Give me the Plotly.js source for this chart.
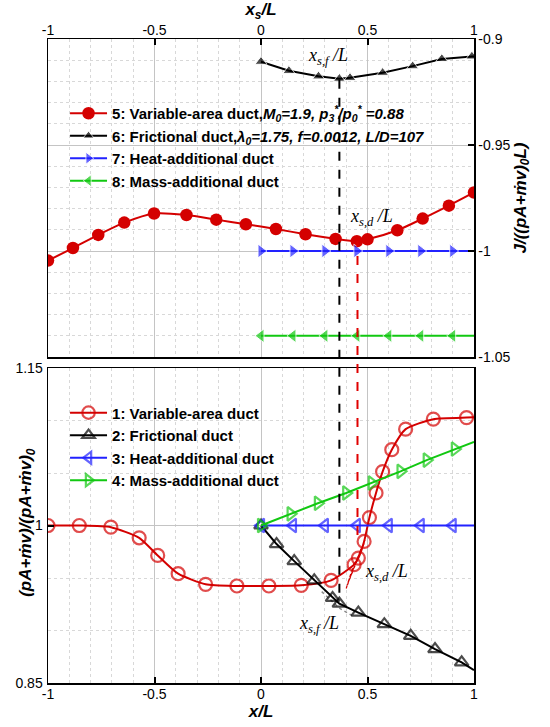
<!DOCTYPE html>
<html>
<head>
<meta charset="utf-8">
<script src="https://cdn.plot.ly/plotly-3.0.1.min.js"></script>
<style>html,body{margin:0;padding:0;background:#fff;}#chart{width:550px;height:727px;}</style>
</head>
<body>
<div id="chart"></div>
<script>
// ---------- data ----------
// Top panel: J/((pA+mv)0 L) vs xs/L
const x5 = [-1, -0.883, -0.764, -0.642, -0.502, -0.350, -0.210, -0.071, 0.070, 0.209, 0.350, 0.450, 0.500, 0.640, 0.759, 0.882, 1.0];
const y5 = [-1.0045, -0.9986, -0.9924, -0.9866, -0.9823, -0.9830, -0.9852, -0.9874, -0.9896, -0.9921, -0.9943, -0.9954, -0.9945, -0.9902, -0.9847, -0.9786, -0.9724];
const x6 = [0, 0.131, 0.270, 0.368, 0.418, 0.571, 0.712, 0.849, 0.99, 1.0];
const y6 = [-0.9107, -0.9150, -0.9176, -0.9187, -0.9183, -0.9159, -0.9128, -0.9094, -0.9082, -0.9082];
const x7 = [0, 0.15, 0.30, 0.45, 0.60, 0.75, 0.90, 1.0];
const y7 = [-1, -1, -1, -1, -1, -1, -1, -1];
const x8 = [0, 0.15, 0.30, 0.45, 0.60, 0.75, 0.90, 1.0];
const y8 = [-1.04, -1.04, -1.04, -1.04, -1.04, -1.04, -1.04, -1.04];

// Bottom panel: (pA+mv)/(pA+mv)0 vs x/L
const x1 = [-1, -0.853, -0.705, -0.572, -0.485, -0.389, -0.260, -0.113, 0.037, 0.189, 0.329, 0.437, 0.457, 0.484, 0.509, 0.540, 0.571, 0.614, 0.679, 0.809, 0.965, 1.0];
const y1 = [1.0, 1.0, 0.9984, 0.9883, 0.9715, 0.9541, 0.9440, 0.9424, 0.9424, 0.9430, 0.9478, 0.9627, 0.9690, 0.9848, 1.0076, 1.0310, 1.0513, 1.0722, 1.0918, 1.1013, 1.1028, 1.1030];
const x2 = [0, 0.073, 0.156, 0.250, 0.336, 0.368, 0.457, 0.579, 0.703, 0.817, 0.942, 1.0];
const y2 = [1.0, 0.9823, 0.9661, 0.9478, 0.9310, 0.9256, 0.9171, 0.9060, 0.8949, 0.8823, 0.8696, 0.8623];
const x3 = [0, 0.15, 0.30, 0.45, 0.60, 0.75, 0.90, 1.0];
const y3 = [1, 1, 1, 1, 1, 1, 1, 1];
const x4 = [0, 0.139, 0.267, 0.400, 0.520, 0.655, 0.778, 0.910, 1.0];
const y4 = [1.0, 1.0111, 1.0212, 1.0310, 1.0405, 1.0516, 1.0623, 1.0728, 1.0797];
// thin dotted side curves near the shock points
const xRedDot = [0.400, 0.440, 0.405, 0.470, 0.410, 0.490];
const yRedDot = [0.940, 0.966, 0.943, 0.978, 0.946, 0.986];
const xGreyDot = [0.285, 0.330, 0.370, 0.430];
const yGreyDot = [0.937, 0.929, 0.921, 0.914];

// shock locations
const xsf = 0.368, xsfTop = -0.9187, xsfBot = 0.936;
const xsd = 0.453, xsdTop = -0.9954, xsdBot = 0.991;

// axis ticks
const xTickVals = [-1, -0.5, 0, 0.5, 1];
const xTickText = ['-1', '-0.5', '0', '0.5', '1'];
const yTopTickVals = [-1.05, -1, -0.95, -0.9];
const yTopTickText = ['-1.05', '-1', '-0.95', '-0.9'];
const yBotTickVals = [0.85, 1, 1.15];
const yBotTickText = ['0.85', '1', '1.15'];

// ---------- styling ----------
const RED = '#d40000', BLUE = '#2222ff', GREEN = '#11c811', BLACK = '#000000';
const FONT = 'Liberation Sans, Arial, sans-serif';
const SERIF = 'Liberation Serif, Times New Roman, serif';

function sizes(n, s, hideLast) {
  const a = new Array(n).fill(s);
  if (hideLast) a[n - 1] = 0;
  return a;
}

const traces = [
  // top panel (x2, y2)
  {x: x5, y: y5, xaxis: 'x2', yaxis: 'y2', mode: 'lines+markers', legend: 'legend',
   name: '5: Variable-area duct,<i>M<sub>0</sub>=1.9, p<sub>3</sub><sup>*</sup>/p<sub>0</sub><sup>*</sup> =0.88</i>',
   line: {color: RED, width: 2, shape: 'spline', smoothing: 0.8},
   marker: {symbol: 'circle', size: 12.5, color: RED}},
  {x: x6, y: y6, xaxis: 'x2', yaxis: 'y2', mode: 'lines+markers', legend: 'legend',
   name: '6: Frictional duct,<i>λ<sub>0</sub>=1.75, f=0.0012, L/D=107</i>',
   line: {color: BLACK, width: 2},
   marker: {symbol: 'triangle-up', size: sizes(x6.length, 10.5, true), color: BLACK}},
  {x: x7, y: y7, xaxis: 'x2', yaxis: 'y2', mode: 'lines+markers', legend: 'legend',
   name: '7: Heat-additional duct',
   line: {color: BLUE, width: 2},
   marker: {symbol: 'triangle-right', size: sizes(x7.length, 12, true), color: BLUE}},
  {x: x8, y: y8, xaxis: 'x2', yaxis: 'y2', mode: 'lines+markers', legend: 'legend',
   name: '8: Mass-additional duct',
   line: {color: GREEN, width: 2},
   marker: {symbol: 'triangle-left', size: sizes(x8.length, 12, true), color: GREEN}},

  // bottom panel (x, y)
  {x: xRedDot, y: yRedDot, xaxis: 'x', yaxis: 'y', mode: 'lines', showlegend: false,
   line: {color: RED, width: 1.2, dash: 'dot'}, hoverinfo: 'skip'},
  {x: xGreyDot, y: yGreyDot, xaxis: 'x', yaxis: 'y', mode: 'lines', showlegend: false,
   line: {color: '#888888', width: 1.5, dash: 'dot'}, hoverinfo: 'skip'},
  {x: x1, y: y1, xaxis: 'x', yaxis: 'y', mode: 'lines+markers', legend: 'legend2',
   name: '1: Variable-area duct',
   line: {color: RED, width: 2, shape: 'spline', smoothing: 0.6},
   marker: {symbol: 'circle-open', size: sizes(x1.length, 13, true), color: RED, line: {width: 2.2, color: RED}}},
  {x: x2, y: y2, xaxis: 'x', yaxis: 'y', mode: 'lines+markers', legend: 'legend2',
   name: '2: Frictional duct',
   line: {color: BLACK, width: 2},
   marker: {symbol: 'triangle-up-open', size: sizes(x2.length, 12, true), color: BLACK, line: {width: 2.2, color: BLACK}}},
  {x: x3, y: y3, xaxis: 'x', yaxis: 'y', mode: 'lines+markers', legend: 'legend2',
   name: '3: Heat-additional duct',
   line: {color: BLUE, width: 2},
   marker: {symbol: 'triangle-left-open', size: sizes(x3.length, 12, true), color: BLUE, line: {width: 2.2, color: BLUE}}},
  {x: x4, y: y4, xaxis: 'x', yaxis: 'y', mode: 'lines+markers', legend: 'legend2',
   name: '4: Mass-additional duct',
   line: {color: GREEN, width: 2},
   marker: {symbol: 'triangle-right-open', size: sizes(x4.length, 12, true), color: GREEN, line: {width: 2.2, color: GREEN}}}
];

const topDomain = [0.5062, 1];
const botDomain = [0, 0.4891];
const topRange = [-1.05, -0.9];
const botRange = [0.85, 1.15];
function toPaper(v, range, dom) {
  return dom[0] + (v - range[0]) / (range[1] - range[0]) * (dom[1] - dom[0]);
}

const tickFont = {family: FONT, size: 14, color: '#000'};
const titleFont = {family: FONT, size: 17, color: '#000', weight: 'bold', style: 'italic'};
const commonX = {
  range: [-1, 1], tickvals: xTickVals, ticktext: xTickText, tickfont: tickFont,
  ticks: 'inside', ticklen: 6, tickwidth: 2, tickcolor: '#000',
  showline: true, linecolor: '#000', linewidth: 1.5, mirror: true,
  showgrid: true, gridcolor: '#c4c4c4', gridwidth: 1, zeroline: false,
  minor: {dtick: 0.1, showgrid: true, gridcolor: '#d8d8d8', griddash: 'dot', gridwidth: 1, ticks: ''}
};

const annFont = {family: SERIF, size: 18, color: '#000', style: 'italic'};
const xsfText = '<i>x<sub>s,f</sub> /L</i>';
const xsdText = '<i>x<sub>s,d</sub> /L</i>';

const layout = {
  width: 550, height: 727,
  margin: {l: 48, r: 76, t: 39, b: 44},
  paper_bgcolor: '#ffffff', plot_bgcolor: '#ffffff',
  font: {family: FONT, size: 14, color: '#000'},
  xaxis: Object.assign({}, commonX, {
    domain: [0, 1], anchor: 'y', side: 'bottom', ticklabelstandoff: -2,
    title: {text: 'x/L', font: titleFont, standoff: 0}
  }),
  yaxis: {
    domain: botDomain, anchor: 'x', side: 'left', range: botRange,
    tickvals: yBotTickVals, ticktext: yBotTickText, tickfont: tickFont,
    ticks: 'inside', ticklen: 6, tickwidth: 2, tickcolor: '#000',
    showline: true, linecolor: '#000', linewidth: 1.5, mirror: true,
    showgrid: true, gridcolor: '#c4c4c4', zeroline: false, ticklabelstandoff: 1,
    minor: {dtick: 0.05, showgrid: true, gridcolor: '#d8d8d8', griddash: 'dot', ticks: ''}
  },
  xaxis2: Object.assign({}, commonX, {
    domain: [0, 1], anchor: 'y2', side: 'top', ticklabelstandoff: -3,
    title: {text: 'x<sub>s</sub>/L', font: titleFont, standoff: 0}
  }),
  yaxis2: {
    domain: topDomain, anchor: 'x2', side: 'right', range: topRange,
    tickvals: yTopTickVals, ticktext: yTopTickText, tickfont: tickFont,
    ticks: 'inside', ticklen: 6, tickwidth: 2, tickcolor: '#000',
    showline: true, linecolor: '#000', linewidth: 1.5, mirror: true,
    showgrid: true, gridcolor: '#c4c4c4', zeroline: false,
    minor: {dtick: 0.01, showgrid: true, gridcolor: '#d8d8d8', griddash: 'dot', ticks: ''},
    title: {text: 'J/((pA+ṁv)<sub>0</sub>L)', font: titleFont, standoff: 4}
  },
  legend: {
    x: 0.04, y: 0.91, xanchor: 'left', yanchor: 'top',
    bgcolor: 'rgba(0,0,0,0)', borderwidth: 0, itemwidth: 37, tracegroupgap: 0,
    font: {family: FONT, size: 15, color: '#000', weight: 'bold'}
  },
  legend2: {
    x: 0.04, y: 0.445, xanchor: 'left', yanchor: 'top',
    bgcolor: 'rgba(0,0,0,0)', borderwidth: 0, itemwidth: 37, tracegroupgap: 0,
    font: {family: FONT, size: 15, color: '#000', weight: 'bold'}
  },
  shapes: [
    {type: 'line', xref: 'x', yref: 'paper', x0: xsf, x1: xsf,
     y0: toPaper(xsfBot, botRange, botDomain), y1: toPaper(xsfTop, topRange, topDomain),
     line: {color: '#000', width: 2, dash: 'dash'}},
    {type: 'line', xref: 'x', yref: 'paper', x0: xsd, x1: xsd,
     y0: toPaper(xsdBot, botRange, botDomain), y1: toPaper(xsdTop, topRange, topDomain),
     line: {color: '#e00000', width: 2, dash: 'dash'}}
  ],
  annotations: [
    {xref: 'x2', yref: 'y2', x: 0.315, y: -0.9084, text: xsfText, showarrow: false, font: annFont},
    {xref: 'x2', yref: 'y2', x: 0.517, y: -0.9844, text: xsdText, showarrow: false, font: annFont},
    {xref: 'x', yref: 'y', x: 0.587, y: 0.9556, text: xsdText, showarrow: false, font: annFont},
    {xref: 'x', yref: 'y', x: 0.272, y: 0.9053, text: xsfText, showarrow: false, font: annFont},
    // left y-axis title of the lower panel
    {xref: 'paper', yref: 'paper', x: -0.048, xanchor: 'center', y: toPaper(1.0, botRange, botDomain) + 0.005,
     yanchor: 'middle', textangle: -90, showarrow: false,
     text: '(pA+ṁv)/(pA+ṁv)<sub>0</sub>', font: titleFont}
  ],
  showlegend: true
};

Plotly.newPlot('chart', traces, layout, {staticPlot: true, displayModeBar: false});
</script>
</body>
</html>
